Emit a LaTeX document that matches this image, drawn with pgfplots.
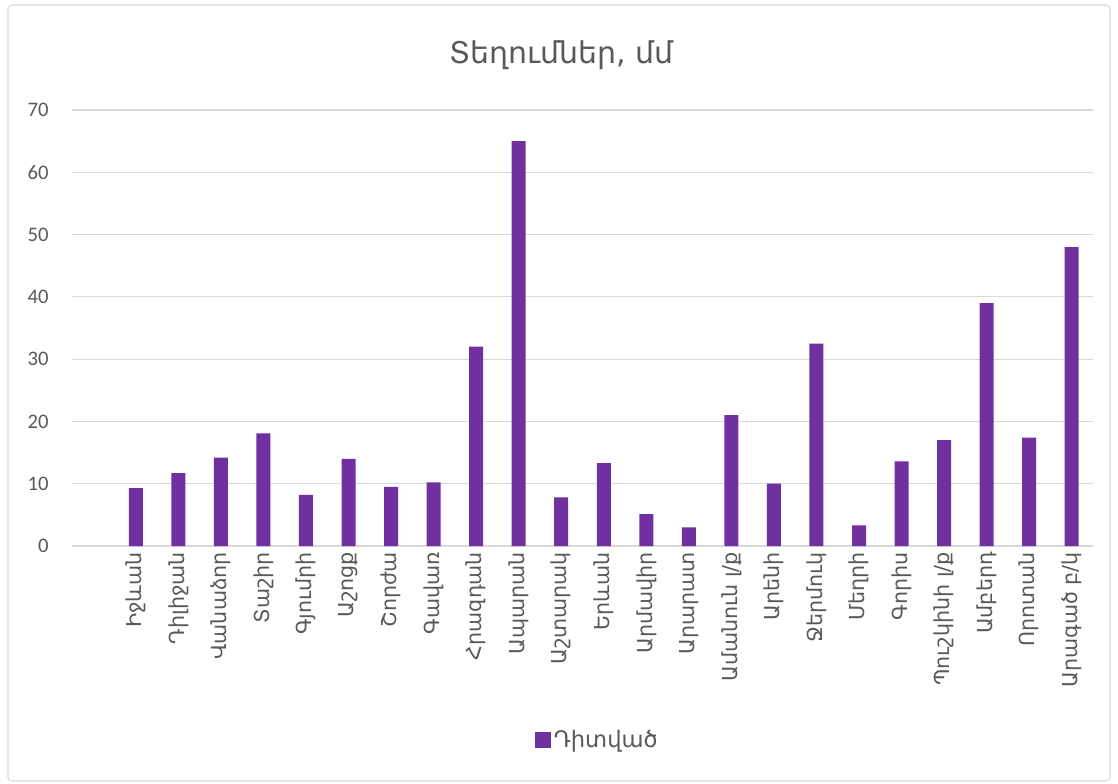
\documentclass[border=0pt]{standalone}
\usepackage{fontspec}
\setmainfont{Carlito}
\newfontfamily\arm{DejaVu Sans}
\usepackage{pgfplots}
\pgfplotsset{compat=1.18}
\definecolor{barc}{HTML}{7030A0}
\definecolor{txt}{HTML}{595959}
\definecolor{grd}{HTML}{D9D9D9}
\begin{document}
\begin{tikzpicture}
\path (0pt,0pt) rectangle (838.5pt,587.25pt);
\draw[grd, line width=0.8pt, rounded corners=3pt] (6pt,1.5pt) rectangle (832.5pt,583.5pt);
\node[text=txt, font=\arm\fontsize{22.5}{26}\selectfont] at (421pt,546pt) {Տեղումներ, մմ};
\begin{axis}[
  at={(54pt,177.75pt)}, anchor=south west,
  scale only axis, width=765.75pt, height=327pt,
  ymin=0, ymax=70, ytick={0,10,...,70},
  xmin=-0.5, xmax=23.5,
  xtick={1,...,23},
  xticklabels={Իջևան,Դիլիջան,Վանաձոր,Տաշիր,Գյումրի,Աշոցք,Շորժա,Գավառ,Հրազդան,Ապարան,Աշտարակ,Երևան,Արմավիր,Արարատ,Ամանուն լ/ք,Արենի,Ջերմուկ,Մեղրի,Գորիս,Պուշկինի լ/ք,Ամբերդ,Որոտան,Արագած բ/կ},
  xticklabel style={rotate=90, anchor=east, font=\arm\fontsize{15.5}{18}\selectfont, text=txt, xshift=-1pt},
  yticklabel style={font=\fontsize{15.5}{18}\selectfont, text=txt, xshift=-14pt},
  /pgf/number format/assume math mode=true,
  ymajorgrids, grid style={grd, line width=0.9pt},
  axis line style={draw=none},
  major tick length=0pt,
  ybar, bar width=10.5pt,
  legend style={at={(0.515,-0.445)}, anchor=center, draw=none, fill=none,
    font=\arm\fontsize{17}{20}\selectfont, text=txt},
  legend image code/.code={\fill[barc] (0pt,-6pt) rectangle (12pt,6pt);},
]
\addplot[fill=barc, draw=none] coordinates {
(1,9.3) (2,11.7) (3,14.2) (4,18.1) (5,8.2) (6,14.0) (7,9.5) (8,10.2)
(9,32.0) (10,65.0) (11,7.8) (12,13.3) (13,5.1) (14,3.0) (15,21.0)
(16,10.0) (17,32.5) (18,3.3) (19,13.6) (20,17.0) (21,39.0) (22,17.4) (23,48.0)
};
\addlegendentry{Դիտված}
\end{axis}
\end{tikzpicture}
\end{document}
